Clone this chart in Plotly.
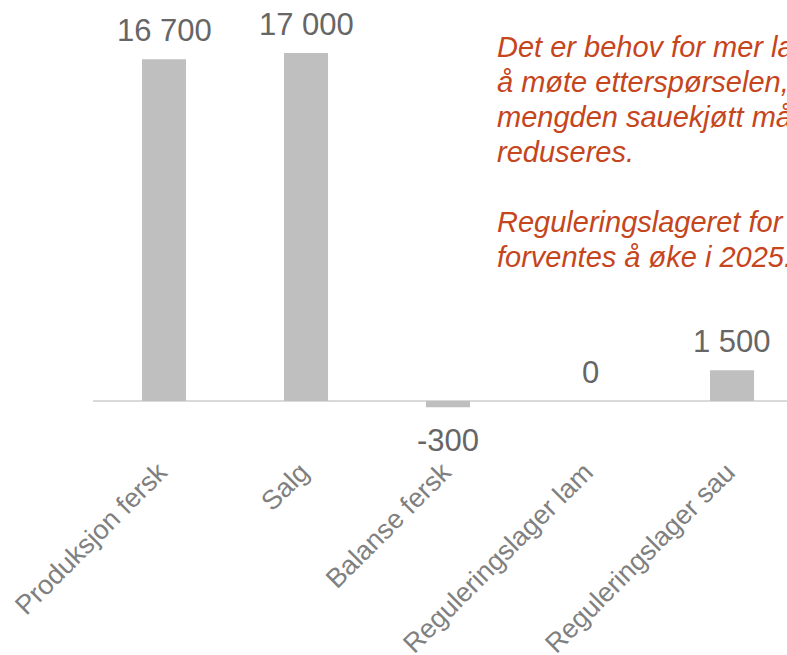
import plotly.graph_objects as go

categories = ["Produksjon fersk", "Salg", "Balanse fersk",
              "Reguleringslager lam", "Reguleringslager sau"]
values = [16700, 17000, -300, 0, 1500]

note_lines = [
    "Det er behov for mer lam for",
    "å møte etterspørselen, mens",
    "mengden sauekjøtt må",
    "reduseres.",
    "",
    "Reguleringslageret for sau",
    "forventes å øke i 2025.",
]

FONT = "Liberation Sans, Arial, Helvetica, sans-serif"

W, H = 787, 655
L, B = 93, 205


def fmt(v):
    return f"{v:,}".replace(",", " ")


fig = go.Figure()
fig.add_trace(go.Bar(
    x=categories,
    y=values,
    marker_color="#BFBFBF",
    marker_line_width=0,
    width=0.31,
    hoverinfo="skip",
))

# value labels above / below each bar
for cat, v in zip(categories, values):
    fig.add_annotation(
        x=cat, y=v, text=fmt(v), showarrow=False,
        yanchor="middle", yshift=-33 if v < 0 else 29,
        font=dict(family=FONT, size=31, color="#666666"),
    )

# comment text, one annotation per line (tighter line spacing than plotly's)
for i, ln in enumerate(note_lines):
    if not ln:
        continue
    fig.add_annotation(
        xref="paper", yref="paper", x=(495 - L) / (W - L), y=1,
        xanchor="left", yanchor="middle", showarrow=False,
        yshift=-(47 + 35 * i),
        text=f"<i>{ln}</i>",
        font=dict(family=FONT, size=29, color="#C5451C"),
    )

fig.update_layout(
    width=W, height=H,
    margin=dict(l=L, r=0, t=0, b=B),
    plot_bgcolor="white", paper_bgcolor="white",
    showlegend=False,
    xaxis=dict(
        range=[-0.5, 4.387], showgrid=False, showline=False, ticks="",
        automargin=False, ticklabelshift=-5,
        tickangle=-45, tickfont=dict(family=FONT, size=27, color="#808080"),
    ),
    yaxis=dict(
        range=[-2394, 19590], showgrid=False, showticklabels=False,
        automargin=False,
        zeroline=True, zerolinecolor="#D9D9D9", zerolinewidth=2,
    ),
)

# drop the default body margin so the chart fills the window exactly
fig.write_html(
    "out.html",
    config={"displayModeBar": False},
    post_script="document.body.style.margin='0';document.body.style.overflow='hidden';",
)
